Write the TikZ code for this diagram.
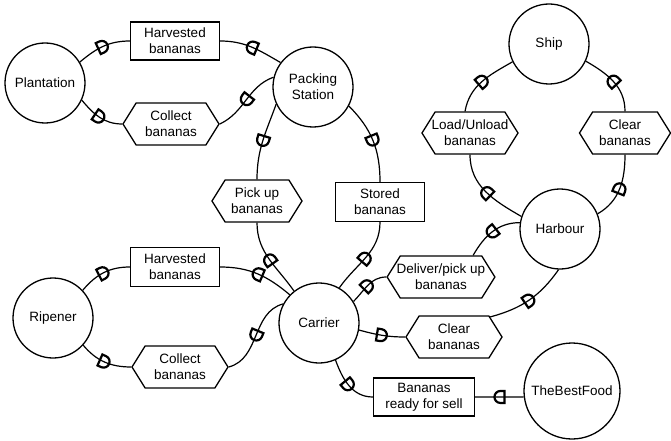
\documentclass[tikz,border=0pt]{standalone}
\usepackage{fontspec}
\setmainfont{Liberation Sans}
\usetikzlibrary{shapes.symbols, decorations.markings}
\tikzstyle{actor} = [circle, draw=black, line width=1.3pt, minimum size=80pt, inner sep=0pt, align=center]
\tikzstyle{store} = [rectangle, draw=black, line width=1.3pt, minimum width=89pt, minimum height=38pt, inner sep=1pt, align=center]
\tikzstyle{event} = [signal, signal to=east and west, signal pointer angle=116, draw=black, line width=1.3pt, minimum width=96pt, minimum height=42pt, inner xsep=-3.5pt, inner ysep=1pt, align=center]
% connector with a D-shaped port half way, bulge forward or backward
\tikzstyle{flow} = [draw=black, line width=1.2pt, postaction={decorate, decoration={markings, mark=at position 0.5 with {\draw[line width=2.2pt] (-5pt,-6pt) -- (-5pt,6pt) -- (-1pt,6pt) arc[start angle=90, end angle=-90, radius=6pt] -- cycle;}}}]
\tikzstyle{backflow} = [draw=black, line width=1.2pt, postaction={decorate, decoration={markings, mark=at position 0.5 with {\draw[line width=2.2pt] (5pt,-6pt) -- (5pt,6pt) -- (1pt,6pt) arc[start angle=90, end angle=270, radius=6pt] -- cycle;}}}]

\begin{document}
\begin{tikzpicture}[x=1pt, y=-1pt, font=\fontsize{13.5}{16}\selectfont]
\useasboundingbox (0,0) rectangle (671,441);

% Actors
\node (plant) [actor] at (45,83) {Plantation};
\node (pack) [actor] at (313,87) {Packing\\Station};
\node (ship) [actor] at (549,44) {Ship};
\node (harbour) [actor] at (560,229) {Harbour};
\node (ripener) [actor] at (53,318) {Ripener};
\node (carrier) [actor] at (319,323) {Carrier};
\node (bestfood) [actor, minimum size=96pt] at (572,391) {TheBestFood};

% Goods (boxes) and actions (hexagons)
\node (harv1) [store] at (175,41) {Harvested\\bananas};
\node (coll1) [event] at (171,124) {Collect\\bananas};
\node (pick) [event, minimum width=90pt] at (257,201) {Pick up\\bananas};
\node (stored) [store, minimum height=39pt] at (380,202) {Stored\\bananas};
\node (load) [event] at (470,133) {Load/Unload\\bananas};
\node (clear1) [event, minimum width=91pt] at (625,133) {Clear\\bananas};
\node (harv2) [store, minimum height=39pt] at (175,267) {Harvested\\bananas};
\node (coll2) [event] at (180,367) {Collect\\bananas};
\node (deliver) [event, minimum width=107pt] at (441,277) {Deliver/pick up\\bananas};
\node (clear2) [event] at (454,337) {Clear\\bananas};
\node (ready) [store, minimum width=101pt] at (424,397) {Bananas\\ready for sell};

% Connections
\draw [flow] (plant.31) to[out=40, in=180] (harv1.west);
\draw [flow] (pack.143) to[out=150, in=0] (harv1.east);
\draw [flow] (plant.-25) to[out=-50, in=180] (coll1.west);
\draw [flow] (pack.166) to[out=200, in=25] (coll1.east);
\draw [flow] (pack.205) to[out=250, in=90] (pick.north);
\draw [flow] (pack.-28) to[out=-45, in=90] (stored.north);
\draw [flow] (carrier.128) to[out=125, in=-90] (pick.south);
\draw [flow] (carrier.60) to[out=55, in=-90] (stored.south);
\draw [flow] (ripener.43) to[out=50, in=180] (harv2.west);
\draw [flow] (carrier.136) to[out=140, in=0] (harv2.east);
\draw [flow] (ripener.-42) to[out=-50, in=180] (coll2.west);
\draw [flow] (carrier.152) to[out=195, in=15] (coll2.east);
\draw [flow] (carrier.32) to[out=45, in=180] (deliver.west);
\draw [flow] (harbour.171) to[out=180, in=60] (deliver.34);
\draw [flow] (carrier.-10) to[out=-15, in=180] (clear2.west);
\draw [backflow] (harbour.-92) to[out=235, in=15] (clear2.29);
\draw [flow] (carrier.-66) to[out=-70, in=180] (ready.west);
\draw [flow] (bestfood.187) to[out=180, in=0] (ready.east);
\draw [backflow] (ship.206) to[out=210, in=80] (load.103);
\draw [backflow] (ship.-25) to[out=-30, in=90] (clear1.north);
\draw [flow] (harbour.162) to[out=150, in=-90] (load.south);
\draw [flow] (harbour.22) to[out=30, in=-90] (clear1.south);

\end{tikzpicture}
\end{document}
